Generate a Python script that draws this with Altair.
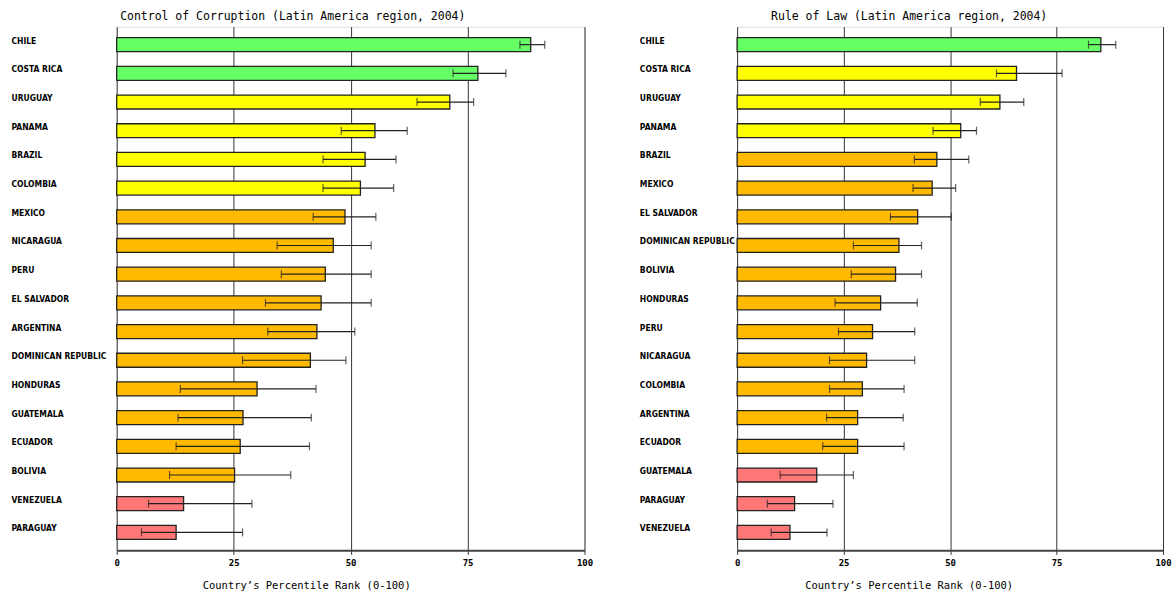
import altair as alt
import pandas as pd

# Control of Corruption, Latin America 2004
cc_countries = ["CHILE", "COSTA RICA", "URUGUAY", "PANAMA", "BRAZIL", "COLOMBIA",
                "MEXICO", "NICARAGUA", "PERU", "EL SALVADOR", "ARGENTINA",
                "DOMINICAN REPUBLIC", "HONDURAS", "GUATEMALA", "ECUADOR", "BOLIVIA",
                "VENEZUELA", "PARAGUAY"]
cc_rank = [88.5, 77.2, 71.2, 55.2, 53.1, 52.1, 48.8, 46.3, 44.6, 43.7, 42.8,
           41.4, 30.0, 27.0, 26.4, 25.2, 14.3, 12.7]
cc_low = [86.2, 71.9, 64.2, 48.0, 44.1, 44.1, 42.0, 34.3, 35.2, 31.8, 32.3,
          26.9, 13.6, 13.1, 12.7, 11.3, 6.8, 5.3]
cc_high = [91.5, 83.2, 76.3, 62.1, 59.7, 59.2, 55.4, 54.4, 54.4, 54.4, 50.9,
           49.0, 42.6, 41.6, 41.2, 37.2, 28.9, 26.9]
cc_band = ["top", "top", "upper", "upper", "upper", "upper", "middle", "middle",
           "middle", "middle", "middle", "middle", "middle", "middle", "middle",
           "middle", "bottom", "bottom"]

# Rule of Law, Latin America 2004
rl_countries = ["CHILE", "COSTA RICA", "URUGUAY", "PANAMA", "BRAZIL", "MEXICO",
                "EL SALVADOR", "DOMINICAN REPUBLIC", "BOLIVIA", "HONDURAS", "PERU",
                "NICARAGUA", "COLOMBIA", "ARGENTINA", "ECUADOR", "GUATEMALA",
                "PARAGUAY", "VENEZUELA"]
rl_rank = [85.4, 65.6, 61.7, 52.5, 46.9, 45.8, 42.4, 38.0, 37.2, 33.7, 31.8,
           30.4, 29.4, 28.3, 28.3, 18.7, 13.5, 12.4]
rl_low = [82.5, 60.9, 57.1, 46.0, 41.6, 41.3, 36.0, 27.3, 26.8, 23.0, 23.8,
          21.7, 21.7, 21.0, 20.1, 10.1, 7.1, 8.0]
rl_high = [88.9, 76.3, 67.3, 56.2, 54.4, 51.3, 50.3, 43.3, 43.3, 42.3, 41.7,
           41.7, 39.2, 39.0, 39.2, 27.3, 22.5, 21.1]
rl_band = ["top", "upper", "upper", "upper", "middle", "middle", "middle",
           "middle", "middle", "middle", "middle", "middle", "middle", "middle",
           "middle", "bottom", "bottom", "bottom"]

band_names = ["top", "upper", "middle", "bottom"]
band_colors = ["#66FF66", "#FFFF00", "#FFBA00", "#FF7777"]

x_ticks = [0, 25, 50, 75, 100]

LABEL_FONT = "DejaVu Sans Condensed"
MONO_FONT = "DejaVu Sans Mono"


def panel(countries, rank, low, high, band, title, width, label_pad, title_x,
          title_dx):
    df = pd.DataFrame({"country": countries, "rank": rank, "low": low,
                       "high": high, "band": band})
    y = alt.Y("country:N", sort=countries, title=None,
              scale=alt.Scale(paddingInner=0, paddingOuter=0.126),
              axis=alt.Axis(ticks=False, domain=False, grid=False,
                            labelAlign="left", labelPadding=label_pad,
                            labelFont=LABEL_FONT, labelFontWeight="bold",
                            labelFontSize=8.5, labelColor="#000",
                            labelOffset=-4, labelLimit=200))
    x = alt.X("rank:Q", title="Country\u2019s Percentile Rank (0-100)",
              scale=alt.Scale(domain=[0, 100], nice=False),
              axis=alt.Axis(values=x_ticks, format="d", grid=True,
                            gridColor="#333", gridWidth=1,
                            domainColor="#444", domainWidth=2,
                            tickColor="#333", tickSize=4,
                            labelFlush=False,
                            labelFont=MONO_FONT, labelFontWeight="bold",
                            labelFontSize=9, labelColor="#000",
                            labelPadding=4,
                            titleFont=MONO_FONT, titleFontWeight="normal",
                            titleFontSize=10.5, titleColor="#000",
                            titleX=title_x, titleAlign="center",
                            titlePadding=13))
    base = alt.Chart(df)
    bars = base.mark_bar(height=14, stroke="#222", strokeWidth=1.3).encode(
        x=x, y=y,
        color=alt.Color("band:N", scale=alt.Scale(domain=band_names,
                                                  range=band_colors),
                        legend=None))
    whisk = base.mark_rule(color="#222", strokeWidth=1.2).encode(
        x="low:Q", x2="high:Q", y=alt.Y("country:N", sort=countries))
    cap_lo = base.mark_tick(color="#222", thickness=1.2, size=8).encode(
        x="low:Q", y=alt.Y("country:N", sort=countries))
    cap_hi = base.mark_tick(color="#222", thickness=1.2, size=8).encode(
        x="high:Q", y=alt.Y("country:N", sort=countries))
    return alt.layer(bars, whisk, cap_lo, cap_hi).properties(
        width=width, height=525,
        title=alt.TitleParams(title, font=MONO_FONT, fontSize=11.5,
                              fontWeight="normal", color="#000",
                              anchor="middle", offset=4, dx=title_dx))


left = panel(cc_countries, cc_rank, cc_low, cc_high, cc_band,
             "Control of Corruption (Latin America region, 2004)", 469, 106,
             190, -58)
right = panel(rl_countries, rl_rank, rl_low, rl_high, rl_band,
              "Rule of Law (Latin America region, 2004)", 427, 98, 172, -41)

chart = alt.hconcat(left, right, spacing=45).properties(
    padding={"left": 10, "top": 10, "right": 0, "bottom": 0}
).configure_view(stroke="#A0A0A0", strokeWidth=1.5).configure(
    background="white")

chart.save("out.html", embed_options={"renderer": "svg", "actions": False})
